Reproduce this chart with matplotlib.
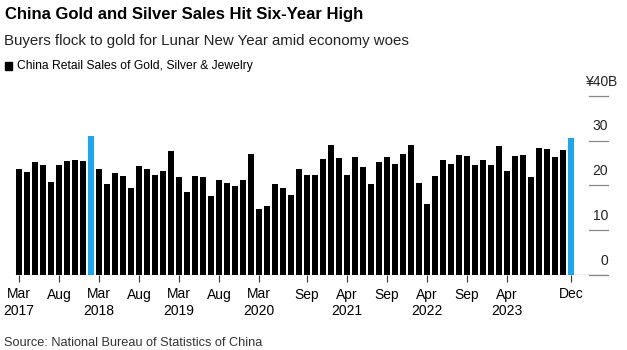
import matplotlib
matplotlib.use('Agg')
import matplotlib.pyplot as plt

plt.rcParams['font.family'] = ['Liberation Sans', 'DejaVu Sans']

# ── Data: monthly sales, Mar-Dec each year (Jan/Feb not reported) ──
years  = [2017, 2018, 2019, 2020, 2021, 2022, 2023]
months = ['Mar', 'Apr', 'May', 'Jun', 'Jul', 'Aug', 'Sep', 'Oct', 'Nov', 'Dec']

sales_2017 = [23.7, 22.9, 25.2, 24.6, 20.8, 24.6, 25.4, 25.6, 25.4, 31.0]
sales_2018 = [23.7, 20.3, 22.8, 22.1, 19.4, 24.4, 23.7, 22.3, 23.1, 27.6]
sales_2019 = [21.9, 18.6, 22.0, 21.9, 17.6, 21.3, 20.5, 19.9, 21.2, 26.9]
sales_2020 = [14.7, 15.5, 20.4, 19.3, 17.9, 23.6, 22.2, 22.2, 25.8, 29.0]
sales_2021 = [26.0, 22.2, 26.3, 24.0, 20.3, 25.1, 26.3, 24.8, 27.1, 29.0]
sales_2022 = [20.5, 15.8, 22.1, 25.7, 24.7, 26.8, 26.6, 24.6, 25.7, 24.6]
sales_2023 = [28.8, 23.1, 26.6, 26.8, 21.9, 28.3, 28.0, 26.4, 27.9, 30.5]

sales = sales_2017 + sales_2018 + sales_2019 + sales_2020 + sales_2021 + sales_2022 + sales_2023
labels = [(y, m) for y in years for m in months]
highlight = [(2017, 'Dec'), (2023, 'Dec')]

tick_marks = [(2017, 'Mar', 'Mar\n2017'), (2017, 'Aug', 'Aug'),
              (2018, 'Mar', 'Mar\n2018'), (2018, 'Aug', 'Aug'),
              (2019, 'Mar', 'Mar\n2019'), (2019, 'Aug', 'Aug'),
              (2020, 'Mar', 'Mar\n2020'), (2020, 'Sep', 'Sep'),
              (2021, 'Apr', 'Apr\n2021'), (2021, 'Sep', 'Sep'),
              (2022, 'Apr', 'Apr\n2022'), (2022, 'Sep', 'Sep'),
              (2023, 'Apr', 'Apr\n2023'), (2023, 'Dec', 'Dec')]

y_ticks = [0, 10, 20, 30, 40]

BLUE = '#1ba6ee'

# ── Figure ────────────────────────────────────────────────────────
W, H = 627, 350
fig = plt.figure(figsize=(W / 100, H / 100), dpi=100)

# axes in pixel terms: x 15..608, y baseline at 275, 40 at 95.7
ax_l, ax_r, ax_b, ax_t = 15, 608, 275, 95.7
ax = fig.add_axes([ax_l / W, 1 - ax_b / H, (ax_r - ax_l) / W, (ax_b - ax_t) / H])

x = list(range(len(sales)))
colors = [BLUE if lab in highlight else 'black' for lab in labels]
ax.bar(x, sales, width=0.66, color=colors, zorder=2)

ax.set_xlim((ax_l - 19) / 8, (ax_r - 19) / 8)
ax.set_ylim(0, 40)

for s in ax.spines.values():
    s.set_visible(False)
ax.set_yticks([])
ax.axhline(0, color='black', lw=0.8, zorder=3)

# x ticks
pos = [labels.index((y, m)) for y, m, _ in tick_marks]
ax.set_xticks(pos)
ax.set_xticklabels([t for _, _, t in tick_marks], fontsize=10, linespacing=1.25)
ax.tick_params(axis='x', length=5, width=0.8, color='#333333', pad=4)

# right-side value labels with short grid stubs
x0 = (589 - 19) / 8
x1 = (608 - 19) / 8
for v in y_ticks:
    ax.plot([x0, x1], [v, v], color='#888888', lw=0.9, clip_on=False, zorder=1)
    ax.text(x1, v + 1.6, str(v) if v != 40 else '¥40', ha='right', va='bottom',
            fontsize=10, color='#222222', clip_on=False)
ax.text(x1, 40 + 1.6, 'B', ha='left', va='bottom', fontsize=10, color='#222222')

# ── Header / footer ───────────────────────────────────────────────
fig.text(5 / W, 1 - 14 / H, 'China Gold and Silver Sales Hit Six-Year High',
         fontsize=12, fontweight='bold', va='center', ha='left')
fig.text(4 / W, 1 - 41 / H, 'Buyers flock to gold for Lunar New Year amid economy woes',
         fontsize=10.8, va='center', ha='left', color='#222222')
fig.patches.append(plt.Rectangle((5 / W, 1 - 70 / H), 7 / W, 8 / H,
                                 transform=fig.transFigure, color='black'))
fig.text(17 / W, 1 - 66 / H, 'China Retail Sales of Gold, Silver & Jewelry',
         fontsize=8.7, va='center', ha='left')
fig.text(4 / W, 1 - 343 / H, 'Source: National Bureau of Statistics of China',
         fontsize=9.2, va='center', ha='left', color='#333333')

fig.savefig('out.png', dpi=100)
